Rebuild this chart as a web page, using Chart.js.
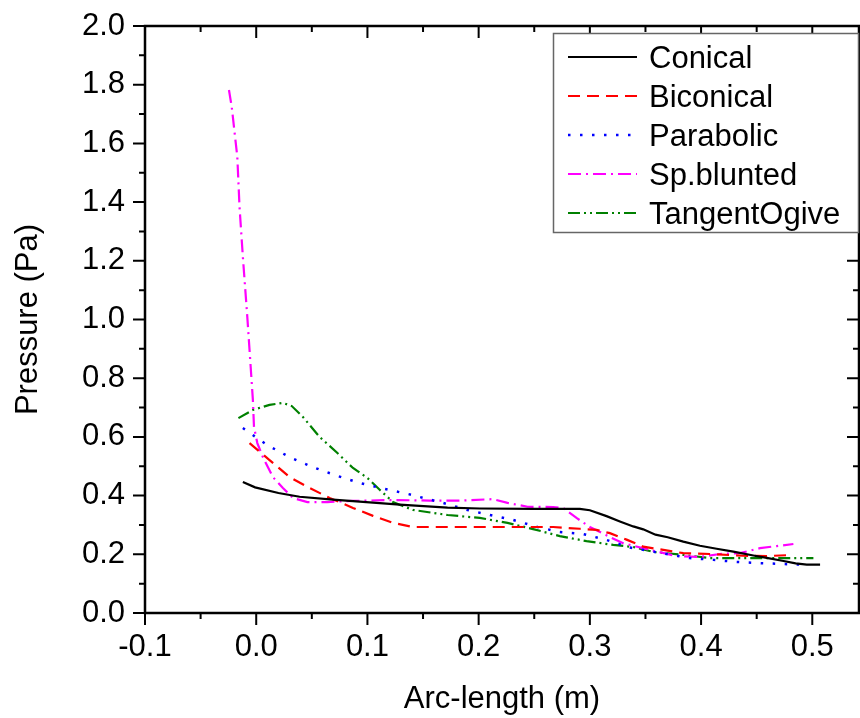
<!DOCTYPE html>
<html>
<head>
<meta charset="utf-8">
<script src="https://cdn.jsdelivr.net/npm/chart.js@4.4.1/dist/chart.umd.min.js"></script>
<style>
  html, body { margin: 0; padding: 0; background: #fff; }
  #wrap { width: 860px; height: 718px; position: relative; }
</style>
</head>
<body>
<div id="wrap"><canvas id="chart"></canvas></div>
<script>
// axis ticks
const xMajor = [-0.1, 0.0, 0.1, 0.2, 0.3, 0.4, 0.5];
const xMinor = [-0.05, 0.05, 0.15, 0.25, 0.35, 0.45];
const yMajor = [0.0, 0.2, 0.4, 0.6, 0.8, 1.0, 1.2, 1.4, 1.6, 1.8, 2.0];
const yMinor = [0.1, 0.3, 0.5, 0.7, 0.9, 1.1, 1.3, 1.5, 1.7, 1.9];

// series
const conicalX = [-0.012, -0.001, 0.020, 0.039, 0.069, 0.105, 0.129, 0.172, 0.201, 0.250, 0.291, 0.300, 0.315, 0.327, 0.339, 0.348, 0.359, 0.370, 0.384, 0.399, 0.414, 0.429, 0.447, 0.459, 0.473, 0.485, 0.495, 0.507];
const conicalY = [0.446, 0.428, 0.409, 0.396, 0.386, 0.376, 0.369, 0.359, 0.356, 0.355, 0.355, 0.350, 0.330, 0.312, 0.295, 0.285, 0.267, 0.258, 0.243, 0.229, 0.219, 0.209, 0.196, 0.188, 0.178, 0.169, 0.165, 0.165];

const biconicalX = [-0.006, 0.012, 0.030, 0.048, 0.066, 0.087, 0.105, 0.123, 0.141, 0.200, 0.267, 0.291, 0.306, 0.318, 0.333, 0.348, 0.384, 0.408, 0.438, 0.459, 0.478];
const biconicalY = [0.579, 0.521, 0.463, 0.426, 0.392, 0.358, 0.331, 0.307, 0.293, 0.293, 0.293, 0.287, 0.283, 0.272, 0.250, 0.226, 0.204, 0.201, 0.195, 0.194, 0.197];

const parabolicX = [-0.012, 0.010, 0.030, 0.051, 0.073, 0.093, 0.114, 0.137, 0.168, 0.190, 0.210, 0.231, 0.253, 0.273, 0.294, 0.315, 0.336, 0.369, 0.390, 0.411, 0.432, 0.453, 0.474, 0.495];
const parabolicY = [0.630, 0.572, 0.531, 0.497, 0.467, 0.443, 0.424, 0.405, 0.375, 0.351, 0.334, 0.317, 0.293, 0.276, 0.269, 0.249, 0.223, 0.201, 0.187, 0.181, 0.174, 0.170, 0.167, 0.164];

const bluntedX = [-0.0245, -0.022, -0.017, -0.015, -0.012, -0.008, -0.006, -0.003, -0.002, 0.001, 0.006, 0.015, 0.024, 0.033, 0.046, 0.064, 0.087, 0.123, 0.156, 0.183, 0.213, 0.226, 0.244, 0.267, 0.276, 0.288, 0.300, 0.318, 0.330, 0.354, 0.378, 0.399, 0.417, 0.435, 0.453, 0.468, 0.483];
const bluntedY = [1.782, 1.724, 1.554, 1.383, 1.213, 1.008, 0.896, 0.726, 0.634, 0.579, 0.531, 0.463, 0.426, 0.392, 0.378, 0.378, 0.382, 0.385, 0.383, 0.383, 0.388, 0.375, 0.362, 0.361, 0.358, 0.324, 0.293, 0.259, 0.238, 0.215, 0.194, 0.191, 0.201, 0.204, 0.221, 0.228, 0.235];

const ogiveX = [-0.016, -0.003, 0.012, 0.024, 0.032, 0.042, 0.057, 0.073, 0.087, 0.100, 0.111, 0.123, 0.141, 0.172, 0.201, 0.226, 0.249, 0.273, 0.297, 0.321, 0.339, 0.357, 0.384, 0.408, 0.438, 0.471, 0.501];
const ogiveY = [0.664, 0.692, 0.709, 0.716, 0.705, 0.668, 0.600, 0.545, 0.494, 0.460, 0.420, 0.378, 0.351, 0.334, 0.324, 0.307, 0.286, 0.262, 0.245, 0.232, 0.225, 0.208, 0.198, 0.187, 0.187, 0.187, 0.187];

const FONT = "'Liberation Sans', Arial, sans-serif";
const FSIZE = 31;

function pts(xs, ys) {
    return xs.map((x, i) => ({ x: x, y: ys[i] }));
}

function series(label, xs, ys, color, dash, width) {
    return {
        label: label,
        data: pts(xs, ys),
        borderColor: color,
        borderWidth: width,
        borderDash: dash,
        showLine: true,
        pointRadius: 0,
        tension: 0,
        fill: false
    };
}

// frame with mirrored axes and tick marks (outward bottom/left, inward top/right)
const framePlugin = {
    id: 'frame',
    afterDraw(chart) {
        const { ctx, chartArea: a } = chart;
        const sx = chart.scales.x, sy = chart.scales.y;
        ctx.save();
        ctx.strokeStyle = '#000';
        ctx.lineWidth = 2.5;
        ctx.strokeRect(a.left, a.top, a.right - a.left, a.bottom - a.top);
        ctx.lineWidth = 2;
        const tick = (vals, len) => {
            vals.forEach(v => {
                const px = sx.getPixelForValue(v);
                ctx.beginPath();
                ctx.moveTo(px, a.bottom); ctx.lineTo(px, a.bottom + len);
                ctx.moveTo(px, a.top); ctx.lineTo(px, a.top + len);
                ctx.stroke();
            });
        };
        const tickY = (vals, len) => {
            vals.forEach(v => {
                const py = sy.getPixelForValue(v);
                ctx.beginPath();
                ctx.moveTo(a.left, py); ctx.lineTo(a.left - len, py);
                ctx.moveTo(a.right, py); ctx.lineTo(a.right - len, py);
                ctx.stroke();
            });
        };
        tick(xMajor, 12); tick(xMinor, 6);
        tickY(yMajor, 12); tickY(yMinor, 6);
        ctx.restore();
    }
};

// boxed legend with line samples
const legendPlugin = {
    id: 'boxLegend',
    afterDraw(chart) {
        const ctx = chart.ctx;
        ctx.save();
        ctx.fillStyle = '#fff';
        ctx.fillRect(553, 33, 305, 199);
        ctx.strokeStyle = '#666';
        ctx.lineWidth = 1.5;
        ctx.strokeRect(553.5, 33.5, 305, 199);
        chart.data.datasets.forEach((ds, i) => {
            const y = 57 + i * 39;
            ctx.strokeStyle = ds.borderColor;
            ctx.lineWidth = ds.borderWidth;
            ctx.setLineDash(ds.borderDash || []);
            ctx.beginPath();
            ctx.moveTo(568, y); ctx.lineTo(637, y);
            ctx.stroke();
            ctx.setLineDash([]);
            ctx.fillStyle = '#000';
            ctx.font = FSIZE + 'px ' + FONT;
            ctx.textBaseline = 'alphabetic';
            ctx.fillText(ds.label, 649, y + 11);
        });
        ctx.restore();
    }
};

new Chart(document.getElementById('chart'), {
    type: 'scatter',
    data: {
        datasets: [
            series('Conical', conicalX, conicalY, '#000000', [], 2.2),
            series('Biconical', biconicalX, biconicalY, '#ff0000', [12, 7], 2.2),
            series('Parabolic', parabolicX, parabolicY, '#0000ff', [2.5, 9.5], 2.5),
            series('Sp.blunted', bluntedX, bluntedY, '#ff00ff', [13, 5, 2, 5], 2.2),
            series('TangentOgive', ogiveX, ogiveY, '#008000', [12, 4, 2, 4, 2, 4], 2.2)
        ]
    },
    options: {
        responsive: true,
        maintainAspectRatio: false,
        animation: false,
        layout: { padding: { left: 0, right: 1, top: 26, bottom: 0 } },
        plugins: { legend: { display: false }, tooltip: { enabled: false } },
        scales: {
            x: {
                type: 'linear',
                min: -0.1,
                max: 0.542,
                afterBuildTicks: s => { s.ticks = xMajor.map(v => ({ value: v })); },
                afterFit: s => { s.height = 105; s.paddingLeft = 0; s.paddingRight = 0; },
                grid: { display: false, drawTicks: false },
                border: { display: false },
                ticks: {
                    autoSkip: false, maxRotation: 0, padding: 16, color: '#000',
                    font: { family: FONT, size: FSIZE },
                    callback: v => v.toFixed(1)
                },
                title: {
                    display: true, text: 'Arc-length (m)', color: '#000',
                    font: { family: FONT, size: FSIZE }, padding: { top: 0, bottom: 0 }
                }
            },
            y: {
                type: 'linear',
                min: 0,
                max: 2.0,
                afterBuildTicks: s => { s.ticks = yMajor.map(v => ({ value: v })); },
                afterFit: s => { s.width = 145; s.paddingTop = 0; s.paddingBottom = 0; },
                grid: { display: false, drawTicks: false },
                border: { display: false },
                ticks: {
                    autoSkip: false, padding: 20, color: '#000',
                    font: { family: FONT, size: FSIZE },
                    callback: v => v.toFixed(1)
                },
                title: {
                    display: true, text: 'Pressure (Pa)', color: '#000',
                    font: { family: FONT, size: FSIZE }, padding: { top: 10, bottom: 0 }
                }
            }
        }
    },
    plugins: [framePlugin, legendPlugin]
});
</script>
</body>
</html>
